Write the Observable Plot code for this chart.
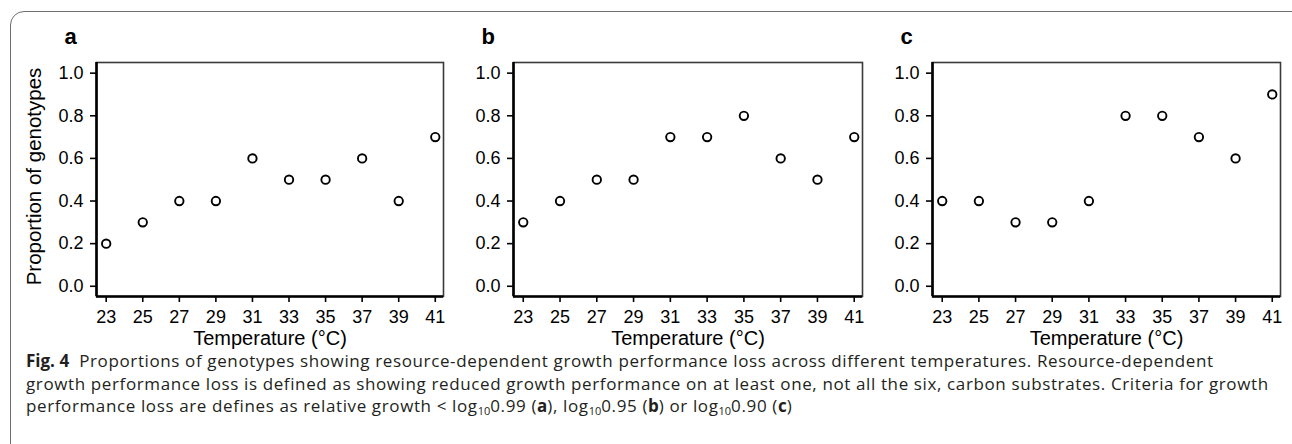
<!DOCTYPE html>
<html>
<head>
<meta charset="utf-8">
<script src="https://cdn.jsdelivr.net/npm/d3@7"></script>
<script src="https://cdn.jsdelivr.net/npm/@observablehq/plot@0.6"></script>
<style>
  html, body { margin: 0; padding: 0; background: #fff; }
  #wrap { position: relative; width: 1292px; height: 444px; overflow: hidden; background: #fff; }
  .panel { position: absolute; top: 0; }
  #border { position: absolute; left: 10px; top: 11px; width: 1300px; height: 600px;
    border: 1.5px solid #6e6e6e; border-radius: 14px; box-sizing: border-box; pointer-events: none; }
  #caption { position: absolute; left: 26px; top: 350px; font-family: "Open Sans", sans-serif;
    font-size: 17px; letter-spacing: 0.62px; line-height: 22px; color: #231f20; white-space: nowrap; }
  #caption > div { height: 22.5px; }
  #caption b { font-weight: 700; letter-spacing: 0; }
  #caption sub { font-size: 11px; vertical-align: -3px; line-height: 0; letter-spacing: 0; }
</style>
</head>
<body>
<div id="wrap">
  <div id="pa" class="panel" style="left:0px"></div>
  <div id="pb" class="panel" style="left:450px"></div>
  <div id="pc" class="panel" style="left:870px"></div>
  <div id="border"></div>
  <div id="caption">
    <div><b>Fig. 4</b>&nbsp; Proportions of genotypes showing resource-dependent growth performance loss across different temperatures. Resource-dependent</div>
    <div>growth performance loss is defined as showing reduced growth performance on at least one, not all the six, carbon substrates. Criteria for growth</div>
    <div>performance loss are defines as relative growth &lt; log<sub>10</sub>0.99 (<b>a</b>), log<sub>10</sub>0.95 (<b>b</b>) or log<sub>10</sub>0.90 (<b>c</b>)</div>
  </div>
</div>
<script>
// Data
const temperatures = [23, 25, 27, 29, 31, 33, 35, 37, 39, 41];
const proportionA = [0.2, 0.3, 0.4, 0.4, 0.6, 0.5, 0.5, 0.6, 0.4, 0.7];
const proportionB = [0.3, 0.4, 0.5, 0.5, 0.7, 0.7, 0.8, 0.6, 0.5, 0.7];
const proportionC = [0.4, 0.4, 0.3, 0.3, 0.4, 0.8, 0.8, 0.7, 0.6, 0.9];
const yTicks = [0, 0.2, 0.4, 0.6, 0.8, 1.0];
const panelLabels = ["a", "b", "c"];
const xTitle = "Temperature (°C)";
const yTitle = "Proportion of genotypes";

const xDomain = [22.47, 41.45];
const yDomain = [-0.048, 1.05];

function panel(values, letter, opts) {
  const data = temperatures.map((t, i) => ({t, p: values[i]}));
  return Plot.plot({
    width: opts.width,
    height: 350,
    marginLeft: opts.ml,
    marginRight: opts.mr,
    marginTop: 62,
    marginBottom: 54,
    style: {background: "transparent", fontFamily: "'Liberation Sans', Arial, sans-serif", fontSize: "18px", color: "#000"},
    x: {domain: xDomain},
    y: {domain: yDomain},
    marks: [
      Plot.frame({stroke: "#3a3a3a", strokeWidth: 1.6}),
      Plot.ruleX([xDomain[0]], {stroke: "#000", strokeWidth: 2.6}),
      Plot.ruleY([yDomain[0]], {stroke: "#000", strokeWidth: 2.6}),
      Plot.axisX({ticks: temperatures, tickFormat: d => String(d), tickSize: 6, tickPadding: 8, strokeWidth: 1.6, label: null, fill: "#000"}),
      Plot.axisY({ticks: yTicks, tickFormat: d3.format(".1f"), tickSize: 6, tickPadding: 7, strokeWidth: 1.6, label: null, fill: "#000"}),
      Plot.dot(data, {x: "t", y: "p", r: 4.2, stroke: "#000", strokeWidth: 1.9, fill: "none"}),
      Plot.text([xTitle], {frameAnchor: "bottom", textAnchor: "middle", lineAnchor: "middle", dy: 42, fontSize: 20, fill: "#000"}),
      ...(opts.yTitle ? [Plot.text([yTitle], {frameAnchor: "left", textAnchor: "middle", lineAnchor: "middle", rotate: -90, dx: -62, dy: -3, fontSize: 20.5, fill: "#000"})] : []),
      Plot.text([letter], {frameAnchor: "top-left", textAnchor: "start", lineAnchor: "middle", dx: -32, dy: -26, fontSize: 22, fontWeight: "bold", fill: "#000"})
    ]
  });
}

document.getElementById("pa").appendChild(panel(proportionA, panelLabels[0], {width: 450, ml: 96, mr: 7, yTitle: true}));
document.getElementById("pb").appendChild(panel(proportionB, panelLabels[1], {width: 420, ml: 63, mr: 8}));
document.getElementById("pc").appendChild(panel(proportionC, panelLabels[2], {width: 422, ml: 62, mr: 12}));
</script>
</body>
</html>
